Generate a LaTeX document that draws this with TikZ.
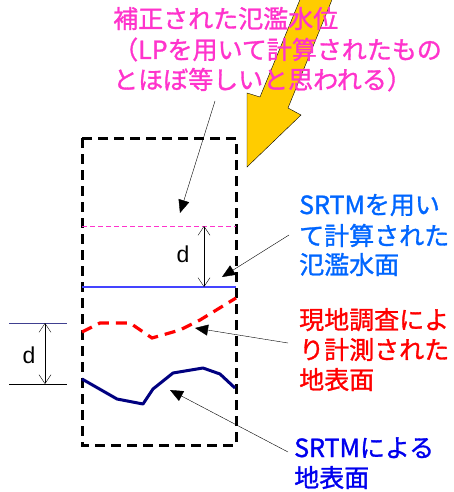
\documentclass[tikz,border=0pt]{standalone}
\usepackage{fontspec}
\setmainfont{Liberation Sans}
\newfontfamily\jp[FakeBold=1.2]{Noto Sans CJK JP}
\usetikzlibrary{arrows.meta}
\definecolor{mag}{HTML}{FF33CC}
\definecolor{lblue}{HTML}{0066FF}
\definecolor{dblue}{HTML}{0000EE}
\definecolor{navyc}{HTML}{000080}
\definecolor{gold}{HTML}{FFCC00}
\definecolor{lineblue}{HTML}{4444FF}
\definecolor{refblue}{HTML}{404090}
\tikzset{
  jtext/.style={anchor=west, inner sep=0pt, font=\jp\fontsize{25}{25}\selectfont, text height=21pt, text depth=3pt},
  ptr/.style={thin, -{Triangle[length=13pt,width=11pt]}},
  dim/.style={thin, {Straight Barb[length=9pt,width=12pt]}-{Straight Barb[length=9pt,width=12pt]}},
  dlabel/.style={inner sep=0pt, font=\fontsize{23}{23}\selectfont},
}
\begin{document}
\begin{tikzpicture}[x=1pt,y=-1pt]
\useasboundingbox (0,0) rectangle (454,492);
\fill[white] (0,0) rectangle (454,492);
% yellow arrow
\filldraw[fill=gold, draw=black, thin] (308,-20) -- (260,97) -- (247,93) -- (247,167) -- (301,115) -- (288,108) -- (340,-20) -- cycle;
% dashed box
\draw[line width=3pt, dash pattern=on 10pt off 6pt] (82,138) rectangle (236,445);
% corrected water level
\draw[mag, thin, dash pattern=on 5pt off 3pt] (82,226) -- (236,226);
\coordinate (lvtop) at (204,226);
% SRTM water level
\draw[lineblue, line width=1.3pt] (82,287) -- (236,287);
\coordinate (lvbot) at (204,287);
\draw[dim] (lvtop) -- (lvbot);
\node[dlabel] (d1) at (183,254) {d};
% red field surface
\draw[red, line width=3.2pt, dash pattern=on 11pt off 7pt] (82,332) -- (100,323) -- (130,323) -- (152,338) -- (180,330) -- (200,320) -- (236,298);
% SRTM surface
\draw[navyc, line width=3pt, line join=round] (82,379) -- (117,399) -- (143,404) -- (153,389) -- (173,373) -- (203,368) -- (220,374) -- (235,388);
% left d
\draw[refblue, line width=0.8pt] (9,323) -- (67,323);
\draw[black, line width=0.8pt] (9,384) -- (67,384);
\coordinate (ltop) at (45,323);
\coordinate (lbot) at (45,384);
\draw[dim] (ltop) -- (lbot);
\node[dlabel] (d2) at (29,355) {d};
% texts
\node[jtext, mag] (t1a) at (113,19) {補正された氾濫水位};
\node[jtext, mag] (t1b) at (113,50) {（LPを用いて計算されたもの};
\node[jtext, mag] (t1c) at (113,80) {とほぼ等しいと思われる）};
\node[jtext, lblue] (t2a) at (299,205) {SRTMを用い};
\node[jtext, lblue] (t2b) at (299,236) {て計算された};
\node[jtext, lblue] (t2c) at (299,265) {氾濫水面};
\node[jtext, red] (t3a) at (299,320) {現地調査によ};
\node[jtext, red] (t3b) at (299,350) {り計測された};
\node[jtext, red] (t3c) at (299,380) {地表面};
\node[jtext, dblue] (t4a) at (294,448) {SRTMによる};
\node[jtext, dblue] (t4b) at (294,478) {地表面};
% pointer arrows
\coordinate (p1s) at (215,101);
\coordinate (p1e) at (180,213);
\coordinate (p2s) at (289,235);
\coordinate (p2e) at (222,277);
\coordinate (p3s) at (288,343);
\coordinate (p3e) at (195,328);
\coordinate (p4s) at (288,452);
\coordinate (p4e) at (170,390);
\draw[ptr] (p1s) -- (p1e);
\draw[ptr] (p2s) -- (p2e);
\draw[ptr] (p3s) -- (p3e);
\draw[ptr] (p4s) -- (p4e);
\end{tikzpicture}
\end{document}
